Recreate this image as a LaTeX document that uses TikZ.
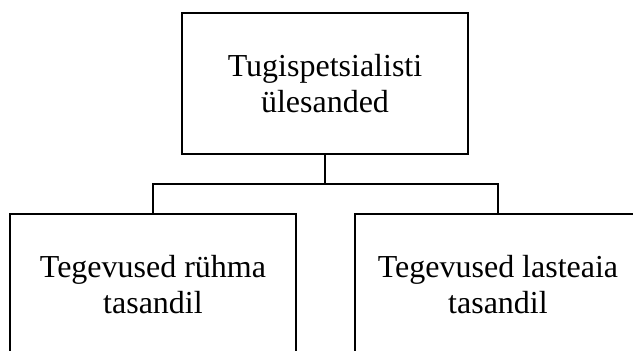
\documentclass[tikz,border=0pt]{standalone}
\usepackage{fontspec}
\setmainfont{Liberation Serif}
\begin{document}
\begin{tikzpicture}[x=1pt,y=-1pt,
  box/.style={draw=black, line width=2pt, minimum width=286pt, minimum height=141pt,
    inner sep=0pt, align=center, font=\fontsize{32}{36.5}\selectfont},
  link/.style={draw=black, line width=2pt}]
\useasboundingbox (0,0) rectangle (633,351);
\clip (0,0) rectangle (633,351);
\node[box] (top) at (325,83.5) {Tugispetsialisti\\ülesanded};
\node[box] (left) at (153,284.5) {Tegevused rühma\\tasandil};
\node[box] (right) at (498,284.5) {Tegevused lasteaia\\tasandil};
\coordinate (j) at (325,184);
\draw[link] (top.south) -- (j);
\draw[link] (left.north) |- (j) -| (right.north);
\end{tikzpicture}
\end{document}
